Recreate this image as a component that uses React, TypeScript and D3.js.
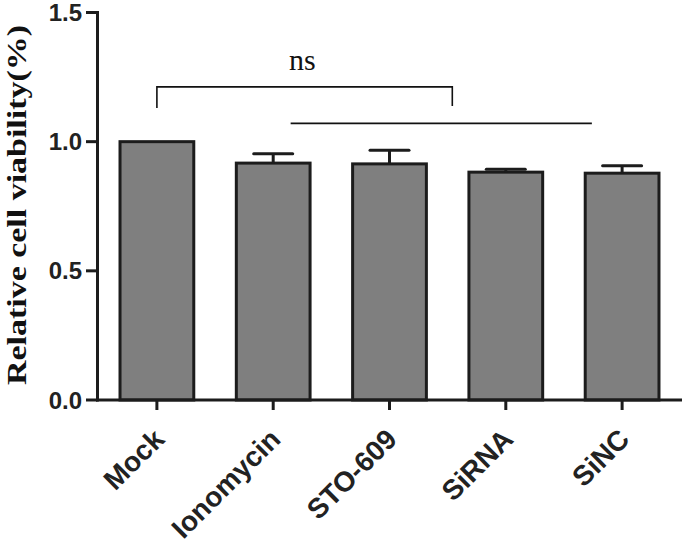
import React from "react";
import * as d3 from "d3";

const categories = ["Mock", "Ionomycin", "STO-609", "SiRNA", "SiNC"];
const values = [1.0, 0.917, 0.914, 0.882, 0.878];
const errors = [0, 0.036, 0.053, 0.011, 0.029];
const yTicks = [0, 0.5, 1.0, 1.5];
const yTickLabels = ["0.0", "0.5", "1.0", "1.5"];
const yTitle = "Relative cell viability(%)";
// significance annotation in category-index / value units
const bracketIdx = [0, 2.54];
const bracketY = 1.212;
const bracketLegLow = [1.13, 1.138];
const lineIdx = [1.15, 3.74];
const lineY = 1.071;
const sigLabel = "ns";
const sigLabelPos = [1.25, 1.277];

const W = 685;
const H = 545;

export default function App() {
  const y = d3.scaleLinear().domain([0, 1.5]).range([400, 12.5]);
  const x = d3
    .scaleBand<string>()
    .domain(categories)
    .range([97, 682])
    .paddingInner(0.34)
    .paddingOuter(0.185);
  const bw = x.bandwidth();
  const cx = (c: string) => (x(c) as number) + bw / 2;
  const idx = d3
    .scaleLinear()
    .domain([0, categories.length - 1])
    .range([cx(categories[0]), cx(categories[categories.length - 1])]);

  const dark = "#1c1c1c";
  const sans = "Arial, 'Liberation Sans', Helvetica, sans-serif";
  const serif = "'Times New Roman', 'Liberation Serif', serif";

  return (
    <svg
      width={W}
      height={H}
      style={{ position: "absolute", left: 0, top: 0, background: "#fff" }}
    >
      {/* bars */}
      {categories.map((c, i) => (
        <rect
          key={c}
          x={(x(c) as number) + 1.5}
          y={y(values[i])}
          width={bw - 3}
          height={y(0) - y(values[i])}
          fill="#7f7f7f"
          stroke={dark}
          strokeWidth={3}
        />
      ))}
      {/* error bars */}
      {categories.map((c, i) =>
        errors[i] > 0 ? (
          <g key={c + "e"} stroke={dark} strokeWidth={3}>
            <line x1={cx(c)} x2={cx(c)} y1={y(values[i])} y2={y(values[i] + errors[i])} />
            <line
              x1={cx(c) - 19.5}
              x2={cx(c) + 19.5}
              y1={y(values[i] + errors[i])}
              y2={y(values[i] + errors[i])}
              strokeLinecap="round"
            />
          </g>
        ) : null
      )}
      {/* y axis */}
      <line x1={97.5} x2={97.5} y1={y(1.5) - 1.5} y2={y(0) + 1.5} stroke={dark} strokeWidth={3} />
      {yTicks.map((t, i) => (
        <g key={t}>
          <line x1={86} x2={97.5} y1={y(t)} y2={y(t)} stroke={dark} strokeWidth={3} />
          <text
            x={82}
            y={y(t) + 8.5}
            textAnchor="end"
            fontFamily={sans}
            fontWeight="bold"
            fontSize={24}
            fill="#222"
          >
            {yTickLabels[i]}
          </text>
        </g>
      ))}
      {/* x axis */}
      <line x1={96} x2={682} y1={y(0)} y2={y(0)} stroke={dark} strokeWidth={3} />
      {categories.map((c) => (
        <g key={c + "t"}>
          <line x1={cx(c)} x2={cx(c)} y1={y(0)} y2={y(0) + 10} stroke={dark} strokeWidth={3} />
          <text
            transform={`translate(${cx(c) + 9},${y(0) + 41}) rotate(-45)`}
            textAnchor="end"
            fontFamily={sans}
            fontWeight="bold"
            fontSize={28}
            fill="#222"
          >
            {c}
          </text>
        </g>
      ))}
      {/* y title */}
      <text
        transform={`translate(26,${205}) rotate(-90)`}
        textAnchor="middle"
        fontFamily={serif}
        fontWeight="bold"
        fontSize={28}
        fill="#111"
        textLength={360}
        lengthAdjust="spacingAndGlyphs"
      >
        {yTitle}
      </text>
      {/* significance */}
      <path
        d={`M${idx(bracketIdx[0])},${y(bracketLegLow[0])}V${y(bracketY)}H${idx(bracketIdx[1])}V${y(bracketLegLow[1])}`}
        fill="none"
        stroke="#111"
        strokeWidth={1.6}
      />
      <line
        x1={idx(lineIdx[0])}
        x2={idx(lineIdx[1])}
        y1={y(lineY)}
        y2={y(lineY)}
        stroke="#111"
        strokeWidth={1.6}
      />
      <text
        x={idx(sigLabelPos[0])}
        y={y(sigLabelPos[1])}
        textAnchor="middle"
        fontFamily={serif}
        fontSize={30}
        fill="#111"
      >
        {sigLabel}
      </text>
    </svg>
  );
}
